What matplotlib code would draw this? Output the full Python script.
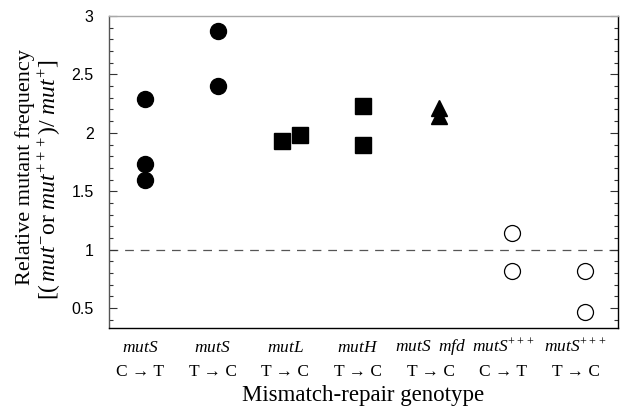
import matplotlib.pyplot as plt
from matplotlib.ticker import MultipleLocator

plt.rcParams["mathtext.fontset"] = "custom"
plt.rcParams["mathtext.rm"] = "Liberation Serif"
plt.rcParams["mathtext.it"] = "Liberation Serif:italic"

# категории по оси x (позиции 1..7)
genes = [r"$\mathit{mutS}$", r"$\mathit{mutS}$", r"$\mathit{mutL}$", r"$\mathit{mutH}$",
         r"$\mathit{mutS}\ \ \mathit{mfd}$", r"$\mathit{mutS}^{+++}$", r"$\mathit{mutS}^{+++}$"]
changes = ["C \u2192 T", "T \u2192 C", "T \u2192 C", "T \u2192 C", "T \u2192 C", "C \u2192 T", "T \u2192 C"]

# данные
mutS_CT_x = [1, 1, 1]
mutS_CT_y = [2.29, 1.73, 1.60]
mutS_TC_x = [2, 2]
mutS_TC_y = [2.87, 2.40]
mutL_x = [2.88, 3.14]
mutL_y = [1.93, 1.98]
mutH_x = [4, 4]
mutH_y = [2.23, 1.90]
mfd_x = [5.05, 5.05]
mfd_y = [2.21, 2.14]
plus_CT_x = [6.05, 6.05]
plus_CT_y = [1.14, 0.82]
plus_TC_x = [7.05, 7.05]
plus_TC_y = [0.82, 0.47]

fig = plt.figure(figsize=(6.3, 4.09), dpi=100)
ax = fig.add_axes([109 / 630, 1 - 328 / 409, 509 / 630, 312 / 409])

ax.axhline(1.0, color="#555555", lw=0.9, dashes=(7, 5.5), zorder=1)

ax.plot(mutS_CT_x, mutS_CT_y, "o", color="black", ms=11.5, ls="none")
ax.plot(mutS_TC_x, mutS_TC_y, "o", color="black", ms=11.5, ls="none")
ax.plot(mutL_x, mutL_y, "s", color="black", ms=11, ls="none")
ax.plot(mutH_x, mutH_y, "s", color="black", ms=11, ls="none")
ax.plot(mfd_x, mfd_y, "^", color="black", ms=11.5, ls="none")
ax.plot(plus_CT_x, plus_CT_y, "o", mfc="white", mec="black", mew=0.9, ms=11.5, ls="none")
ax.plot(plus_TC_x, plus_TC_y, "o", mfc="white", mec="black", mew=0.9, ms=11.5, ls="none")

ax.set_xlim(0.505, 7.51)
ax.set_ylim(0.33, 3.0)
ax.set_xticks([])
ax.yaxis.set_minor_locator(MultipleLocator(0.1))
ax.set_yticks([0.5, 1, 1.5, 2, 2.5, 3])
ax.set_yticklabels(["0.5", "1", "1.5", "2", "2.5", "3"])
ax.tick_params(axis="y", which="both", direction="in", right=True, color="#333333",
               labelsize=11.5, pad=11)
ax.tick_params(axis="y", which="major", length=6, width=0.8)
ax.tick_params(axis="y", which="minor", length=3, width=0.8)
for lab in ax.get_yticklabels():
    lab.set_family(["Liberation Sans", "DejaVu Sans"])

ax.spines["top"].set_color("#a8a8a8")
ax.spines["left"].set_color("#555555")
for s in ["bottom", "right"]:
    ax.spines[s].set_color("black")
for s in ax.spines.values():
    s.set_linewidth(1.0)

serif = ["Liberation Serif", "DejaVu Serif"]
for i, (g, c) in enumerate(zip(genes, changes)):
    x = i + 1 - 0.07
    ax.text(x, -0.06, g, transform=ax.get_xaxis_transform(), ha="center", va="center",
            fontsize=12.5)
    ax.text(x, -0.142, c, transform=ax.get_xaxis_transform(), ha="center", va="center",
            fontsize=12.5, family=serif)

fig.text((109 + 618) / 2 / 630, 1 - 396 / 409, "Mismatch-repair genotype",
         ha="center", va="center", fontsize=16.5, family=serif)
fig.text(25 / 630, 1 - 167 / 409, "Relative mutant frequency", rotation=90,
         ha="center", va="center", fontsize=16, family=serif)
fig.text(50 / 630, 1 - 180 / 409,
         r"$[(\,\mathit{mut}^{-}\mathrm{or}\ \mathit{mut}^{+++})/\ \mathit{mut}^{+}]$",
         rotation=90, ha="center", va="center", fontsize=17)

fig.savefig("out.png", dpi=100)
